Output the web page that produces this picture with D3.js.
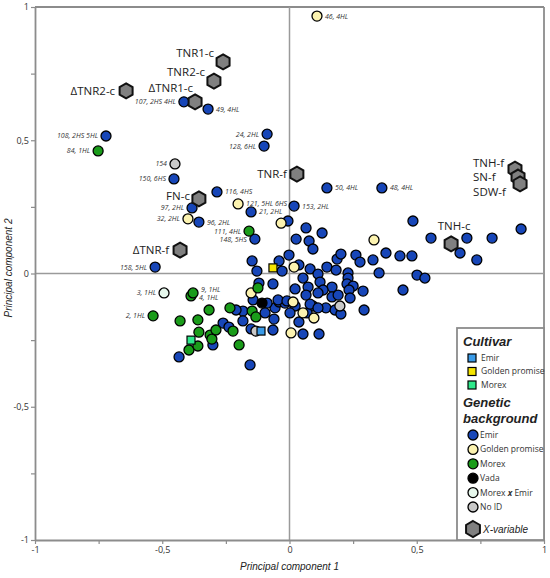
<!DOCTYPE html>
<html lang="en">
<head>
<meta charset="utf-8" />
<title>PCA biplot</title>
<script src="https://cdn.jsdelivr.net/npm/d3@7"></script>
<style>
  html, body { margin: 0; padding: 0; background: #fff; }
  svg { display: block; }
  .tick text { font-family: "Open Sans", sans-serif; font-size: 9px; fill: #333; }
  .ptlabel { font-family: "Open Sans", sans-serif; font-size: 7px; font-style: italic; fill: #333; }
  .xlabel { font-family: "Open Sans", sans-serif; font-size: 11.5px; fill: #222; }
  .axtitle { font-family: "Liberation Sans", Arial, sans-serif; font-size: 10px; font-style: italic; fill: #222; }
  .legtitle { font-family: "Liberation Sans", Arial, sans-serif; font-size: 13px; font-style: italic; font-weight: bold; fill: #222; }
  .legtext { font-family: "Open Sans", sans-serif; font-size: 8.5px; fill: #333; }
</style>
</head>
<body>
<div id="chart"></div>
<script>
// [PC1, PC2, label]  ("" = no label)
var emir = [
  [-0.415, 0.644, "107, 2HS 4HL"], [-0.320, 0.617, "49, 4HL"], [-0.721, 0.516, "108, 2HS 5HL"],
  [-0.088, 0.523, "24, 2HL"], [-0.100, 0.478, "128, 6HL"], [-0.454, 0.355, "150, 6HS"],
  [-0.285, 0.306, "116, 4HS"], [-0.383, 0.246, "97, 2HL"], [-0.356, 0.193, "96, 2HL"],
  [-0.151, 0.231, "21, 2HL"], [-0.136, 0.129, "148, 5HS"], [-0.528, 0.024, "158, 5HL"],
  [0.147, 0.321, "50, 4HL"], [0.363, 0.321, "48, 4HL"], [0.018, 0.253, "153, 2HL"],
  [-0.006, 0.197, ""], [0.065, 0.171, ""], [0.128, 0.152, ""], [0.026, 0.129, ""],
  [0.077, 0.122, ""], [0.092, 0.092, ""], [0.485, 0.197, ""], [0.556, 0.133, ""],
  [0.697, 0.133, ""], [0.796, 0.133, ""], [0.910, 0.167, ""], [0.670, 0.077, ""],
  [0.736, 0.051, ""], [-0.002, 0.069, ""], [-0.041, 0.047, ""], [-0.147, 0.047, ""],
  [-0.128, 0.009, ""], [-0.029, 0.009, ""], [0.037, 0.032, ""], [0.081, 0.017, ""],
  [0.112, -0.002, ""], [0.053, -0.017, ""], [0.147, 0.024, ""], [0.187, 0.054, ""],
  [0.202, 0.073, ""], [0.183, 0.013, ""], [0.261, 0.069, ""], [0.277, 0.043, ""],
  [0.328, 0.051, ""], [0.379, 0.077, ""], [0.434, 0.066, ""], [0.481, 0.066, ""],
  [0.230, 0.002, ""], [0.230, -0.017, ""], [0.352, 0.002, ""], [0.501, -0.006, ""],
  [0.532, -0.017, ""], [0.446, -0.062, ""], [0.120, -0.032, ""], [0.073, -0.051, ""],
  [0.022, -0.058, ""], [-0.065, -0.039, ""], [0.167, -0.051, ""], [0.226, -0.039, ""],
  [0.250, -0.047, ""], [0.234, -0.062, ""], [0.289, -0.066, ""], [0.238, -0.092, ""],
  [0.132, -0.062, ""], [0.065, -0.081, ""], [0.112, -0.073, ""], [0.167, -0.088, ""],
  [0.191, -0.081, ""], [0.143, -0.129, ""], [0.179, -0.137, ""], [0.202, -0.152, ""],
  [0.293, -0.137, ""], [-0.057, -0.129, ""], [-0.041, -0.107, ""], [-0.018, -0.111, ""],
  [0.022, -0.122, ""], [0.002, -0.148, ""], [0.092, -0.122, ""], [0.069, -0.148, ""],
  [0.037, -0.182, ""], [-0.061, -0.171, ""], [-0.065, -0.212, ""], [0.053, -0.227, ""],
  [0.116, -0.227, ""], [-0.120, -0.036, ""], [-0.143, -0.099, ""], [-0.088, -0.111, ""],
  [-0.096, -0.148, ""], [-0.183, -0.141, ""], [-0.210, -0.137, ""], [-0.183, -0.178, ""],
  [-0.261, -0.186, ""], [-0.238, -0.201, ""], [-0.151, -0.208, ""], [-0.301, -0.268, ""],
  [-0.434, -0.313, ""], [-0.155, -0.343, ""], [-0.045, -0.099, ""], [-0.010, -0.103, ""],
  [0.081, -0.115, ""], [0.112, -0.129, ""]
];
var goldenPromise = [
  [0.108, 0.966, "46, 4HL"], [-0.202, 0.261, "121, 5HL 6HS"], [-0.399, 0.205, "32, 2HL"],
  [-0.033, 0.189, ""], [0.332, 0.126, ""], [0.018, 0.024, ""], [-0.151, -0.073, ""],
  [0.014, -0.107, ""], [0.053, -0.148, ""], [0.096, -0.167, ""], [0.006, -0.223, ""]
];
var morex = [
  [-0.752, 0.460, "84, 1HL"], [-0.159, 0.159, "111, 4HL"], [-0.387, -0.084, "4, 1HL"],
  [-0.379, -0.073, "9, 1HL"], [-0.536, -0.159, "2, 1HL"],
  [-0.430, -0.178, ""], [-0.360, -0.174, ""], [-0.316, -0.137, ""], [-0.356, -0.220, ""],
  [-0.312, -0.231, ""], [-0.305, -0.246, ""], [-0.289, -0.212, ""], [-0.395, -0.287, ""],
  [-0.360, -0.272, ""], [-0.198, -0.268, ""], [-0.222, -0.216, ""], [-0.234, -0.129, ""],
  [-0.147, -0.141, ""], [-0.132, -0.163, ""], [-0.124, -0.054, ""]
];
var vada = [[-0.108, -0.111, ""]];
var morexXEmir = [[-0.493, -0.073, "3, 1HL"]];
var noId = [[-0.450, 0.411, "154"], [-0.132, -0.216, ""], [0.198, -0.122, ""]];

// cultivars (squares)
var cultivarEmir = [[-0.112, -0.216]];
var cultivarGolden = [[-0.065, 0.021]];
var cultivarMorex = [[-0.387, -0.250]];

// X-variables (hexagons)
var xVariables = [
  [-0.261, 0.794, "TNR1-c"], [-0.297, 0.722, "TNR2-c"], [-0.642, 0.685, "\u0394TNR2-c"],
  [-0.371, 0.644, "\u0394TNR1-c"], [-0.356, 0.280, "FN-c"], [-0.430, 0.088, "\u0394TNR-f"],
  [0.029, 0.373, "TNR-f"], [0.886, 0.392, "TNH-f"], [0.898, 0.362, "SN-f"],
  [0.906, 0.336, "SDW-f"], [0.635, 0.111, "TNH-c"]
];

var axisTicks = [-1, -0.75, -0.5, -0.25, 0, 0.25, 0.5, 0.75, 1];

// labels drawn to the right of their point
var labelRight = ["49, 4HL", "116, 4HS", "96, 2HL", "121, 5HL 6HS", "21, 2HL",
  "9, 1HL", "4, 1HL", "46, 4HL", "50, 4HL", "48, 4HL", "153, 2HL"];
var labelNudge = { "9, 1HL": -3, "4, 1HL": 2 };

// hexagon label placement: [dx, dy, anchor]
var hexLabelPos = {
  "TNR1-c": [-9, -9, "end"], "TNR2-c": [-9, -9, "end"], "\u0394TNR2-c": [-11, 0, "end"],
  "\u0394TNR1-c": [-2, -14, "end"], "FN-c": [-9, -3, "end"], "\u0394TNR-f": [-11, 0, "end"],
  "TNR-f": [-10, 0, "end"], "TNH-f": [-42, -6, "start"], "SN-f": [-45, 0, "start"],
  "SDW-f": [-47, 8, "start"], "TNH-c": [3, -18, "middle"]
};

var W = 550, H = 578;
var svg = d3.select("#chart").append("svg").attr("width", W).attr("height", H);

var x = d3.scaleLinear().domain([-1, 1]).range([35, 544]);
var y = d3.scaleLinear().domain([-1, 1]).range([540, 7]);

var fmt = d3.formatLocale({ decimal: ",", thousands: ".", grouping: [3], currency: ["", ""], minus: "-" }).format("~g");
function tickFmt(d) { return Math.abs(d * 2 - Math.round(d * 2)) < 1e-9 ? fmt(d) : ""; }

var axisColor = "#8c8c8c";

// frame top/right
svg.append("line").attr("x1", x(-1)).attr("x2", x(1)).attr("y1", y(1)).attr("y2", y(1))
  .attr("stroke", axisColor).attr("stroke-width", 1.8);
svg.append("line").attr("x1", x(1)).attr("x2", x(1)).attr("y1", y(1)).attr("y2", y(-1))
  .attr("stroke", axisColor).attr("stroke-width", 1.8);

// zero lines
svg.append("line").attr("x1", x(-1)).attr("x2", x(1)).attr("y1", y(0)).attr("y2", y(0))
  .attr("stroke", "#9a9a9a").attr("stroke-width", 1.5);
svg.append("line").attr("x1", x(0)).attr("x2", x(0)).attr("y1", y(1)).attr("y2", y(-1))
  .attr("stroke", "#9a9a9a").attr("stroke-width", 1.5);

var gx = svg.append("g").attr("transform", "translate(0," + y(-1) + ")")
  .call(d3.axisBottom(x).tickValues(axisTicks).tickFormat(tickFmt).tickSize(4).tickSizeOuter(0).tickPadding(3));
var gy = svg.append("g").attr("transform", "translate(" + x(-1) + ",0)")
  .call(d3.axisLeft(y).tickValues(axisTicks).tickFormat(tickFmt).tickSize(4).tickSizeOuter(0).tickPadding(2));
[gx, gy].forEach(function (g) {
  g.select(".domain").attr("stroke", axisColor).attr("stroke-width", 1.8);
  g.selectAll(".tick line").attr("stroke", axisColor).attr("stroke-width", 1.2);
});

// axis titles
svg.append("text").attr("class", "axtitle").attr("x", x(0)).attr("y", 570)
  .attr("text-anchor", "middle").text("Principal component 1");
svg.append("text").attr("class", "axtitle").attr("transform", "translate(12," + 268 + ") rotate(-90)")
  .attr("text-anchor", "middle").text("Principal component 2");

// legend box
var leg = svg.append("g");
leg.append("rect").attr("x", 457).attr("y", 328).attr("width", x(1) - 457).attr("height", y(-1) - 328)
  .attr("fill", "#fff").attr("stroke", axisColor).attr("stroke-width", 1.8);

var groups = [
  { name: "Emir", data: emir, fill: "#1746b8" },
  { name: "Golden promise", data: goldenPromise, fill: "#fcf3b0" },
  { name: "Morex", data: morex, fill: "#1a9c1a" },
  { name: "Vada", data: vada, fill: "#000000" },
  { name: "Morex x Emir", data: morexXEmir, fill: "#e6f7ec" },
  { name: "No ID", data: noId, fill: "#c8c8c8" }
];
var cultivars = [
  { name: "Emir", data: cultivarEmir, fill: "#3a9be8" },
  { name: "Golden promise", data: cultivarGolden, fill: "#f5e400" },
  { name: "Morex", data: cultivarMorex, fill: "#2ee88a" }
];

function hexPath(r) {
  var pts = d3.range(6).map(function (i) {
    var a = Math.PI / 3 * i - Math.PI / 2;
    return [r * Math.cos(a), r * Math.sin(a)];
  });
  return "M" + pts.join("L") + "Z";
}

var ptR = 5;

groups.forEach(function (g) {
  svg.append("g").selectAll("circle").data(g.data).enter().append("circle")
    .attr("cx", function (d) { return x(d[0]); })
    .attr("cy", function (d) { return y(d[1]); })
    .attr("r", ptR)
    .attr("fill", g.fill).attr("stroke", "#000").attr("stroke-width", 1.3);
});

cultivars.forEach(function (c) {
  svg.append("g").selectAll("rect").data(c.data).enter().append("rect")
    .attr("x", function (d) { return x(d[0]) - 4; })
    .attr("y", function (d) { return y(d[1]) - 4; })
    .attr("width", 8).attr("height", 8)
    .attr("fill", c.fill).attr("stroke", "#000").attr("stroke-width", 1.2);
});

// point labels
var labelled = [];
groups.forEach(function (g) { g.data.forEach(function (d) { if (d[2]) labelled.push(d); }); });
svg.append("g").selectAll("text").data(labelled).enter().append("text")
  .attr("class", "ptlabel")
  .attr("x", function (d) { return x(d[0]) + (labelRight.indexOf(d[2]) >= 0 ? 8 : -8); })
  .attr("y", function (d) { return y(d[1]) + (labelNudge[d[2]] || 0); })
  .attr("dy", "0.35em")
  .attr("text-anchor", function (d) { return labelRight.indexOf(d[2]) >= 0 ? "start" : "end"; })
  .text(function (d) { return d[2]; });

// X-variables
var hex = svg.append("g").selectAll("g").data(xVariables).enter().append("g")
  .attr("transform", function (d) { return "translate(" + x(d[0]) + "," + y(d[1]) + ")"; });
hex.append("path").attr("d", hexPath(7.5)).attr("fill", "#808080")
  .attr("stroke", "#111").attr("stroke-width", 2);
hex.append("text").attr("class", "xlabel")
  .attr("x", function (d) { return hexLabelPos[d[2]][0]; })
  .attr("y", function (d) { return hexLabelPos[d[2]][1]; })
  .attr("dy", "0.35em")
  .attr("text-anchor", function (d) { return hexLabelPos[d[2]][2]; })
  .text(function (d) { return d[2]; });

// legend contents
leg.raise();
leg.append("text").attr("class", "legtitle").attr("x", 463).attr("y", 346).text("Cultivar");
cultivars.forEach(function (c, i) {
  var cy = 358 + i * 13.5;
  leg.append("rect").attr("x", 468).attr("y", cy - 4).attr("width", 8).attr("height", 8)
    .attr("fill", c.fill).attr("stroke", "#000").attr("stroke-width", 1.2);
  leg.append("text").attr("class", "legtext").attr("x", 481).attr("y", cy).attr("dy", "0.35em").text(c.name);
});
leg.append("text").attr("class", "legtitle").attr("x", 463).attr("y", 407).text("Genetic");
leg.append("text").attr("class", "legtitle").attr("x", 463).attr("y", 423).text("background");
groups.forEach(function (g, i) {
  var cy = 435 + i * 14.4;
  leg.append("circle").attr("cx", 473).attr("cy", cy).attr("r", ptR)
    .attr("fill", g.fill).attr("stroke", "#000").attr("stroke-width", 1.3);
  var t = leg.append("text").attr("class", "legtext").attr("x", 480).attr("y", cy).attr("dy", "0.35em");
  if (g.name === "Morex x Emir") {
    t.append("tspan").text("Morex ");
    t.append("tspan").attr("font-style", "italic").attr("font-weight", "bold").text("x");
    t.append("tspan").text(" Emir");
  } else {
    t.text(g.name);
  }
});
leg.append("path").attr("d", hexPath(8)).attr("transform", "translate(473,529)")
  .attr("fill", "#808080").attr("stroke", "#111").attr("stroke-width", 2);
leg.append("text").attr("x", 483).attr("y", 529).attr("dy", "0.35em")
  .style("font-family", "\"Liberation Sans\", Arial, sans-serif").style("font-size", "10px")
  .style("font-style", "italic").style("fill", "#222").text("X-variable");
</script>
</body>
</html>
